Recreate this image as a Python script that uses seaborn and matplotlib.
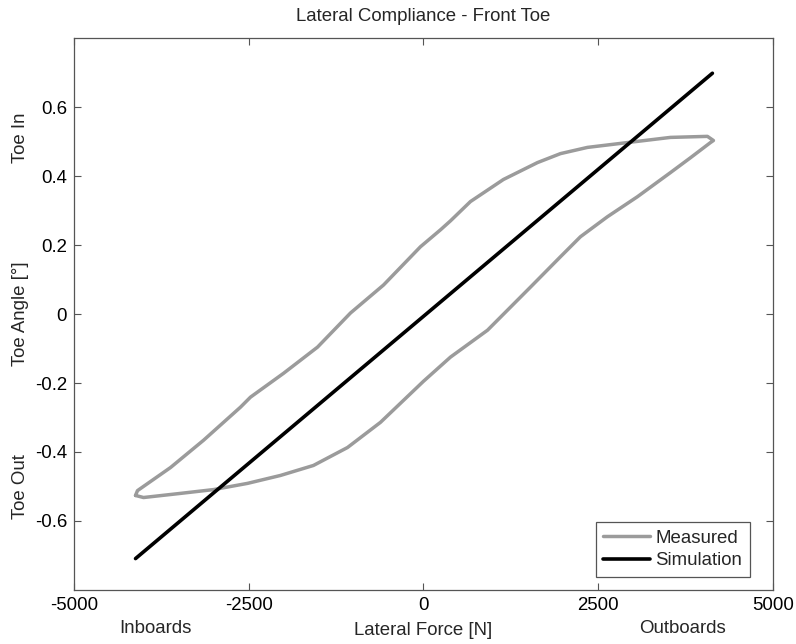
import numpy as np
import pandas as pd
import matplotlib
matplotlib.use("Agg")
import matplotlib.pyplot as plt
import seaborn as sns

# ---- data ----
measured_force = [-4120, -4006, -3476, -3004, -2518, -2046, -1574, -1087, -615, 0, 386, 916,
                  1531, 1960, 2246, 2632, 3061, 3534, 3820, 4106, 4149,
                  4063, 3534, 2918, 2346, 1960, 1631, 1144, 672, 386, 243, -43,
                  -572, -1044, -1516, -2003, -2475, -2618, -3147, -3619, -4092, -4120]
measured_toe = [-0.526, -0.532, -0.520, -0.509, -0.491, -0.468, -0.439, -0.387, -0.314, -0.195, -0.125, -0.047,
                0.078, 0.166, 0.224, 0.282, 0.340, 0.410, 0.453, 0.497, 0.503,
                0.515, 0.512, 0.497, 0.483, 0.465, 0.439, 0.390, 0.326, 0.270, 0.244, 0.195,
                0.084, 0.003, -0.096, -0.172, -0.241, -0.270, -0.366, -0.445, -0.512, -0.526]
sim_force = [-4120, 4134]
sim_toe = [-0.709, 0.698]

x_ticks = [-5000, -2500, 0, 2500, 5000]
y_ticks = [-0.6, -0.4, -0.2, 0, 0.2, 0.4, 0.6]

title = "Lateral Compliance - Front Toe"
x_label = "Lateral Force [N]"
y_label = "Toe Angle [°]"
x_side_labels = ["Inboards", "Outboards"]
y_side_labels = ["Toe In", "Toe Out"]

sns.set_style("ticks")
plt.rcParams["font.family"] = ["Liberation Sans", "DejaVu Sans"]
FS = 13.4

fig = plt.figure(figsize=(7.96, 6.44), dpi=100)
ax = fig.add_axes([0.093, 0.0839, 0.878, 0.857])

meas = pd.DataFrame({"force": measured_force, "toe": measured_toe})
sim = pd.DataFrame({"force": sim_force, "toe": sim_toe})

sns.lineplot(data=meas, x="force", y="toe", sort=False, estimator=None,
             color="#9b9b9b", linewidth=2.5, label="Measured", ax=ax)
sns.lineplot(data=sim, x="force", y="toe", sort=False, estimator=None,
             color="black", linewidth=2.6, label="Simulation", ax=ax)
for ln in ax.lines:
    ln.set_solid_joinstyle("round")
    ln.set_solid_capstyle("round")

ax.set_xlim(-5000, 5000)
ax.set_ylim(-0.8, 0.8)
ax.set_xticks(x_ticks)
ax.set_xticklabels([str(v) for v in x_ticks])
ax.set_yticks(y_ticks)
ax.set_yticklabels(["-0.6", "-0.4", "-0.2", "0", "0.2", "0.4", "0.6"])

for s in ax.spines.values():
    s.set_visible(True)
    s.set_color("#555555")
    s.set_linewidth(0.9)
ax.tick_params(direction="in", length=5, width=0.8, color="#555555",
               labelsize=FS, labelcolor="black", top=True, right=True, pad=5)

ax.set_title(title, fontsize=FS, pad=12)
ax.set_xlabel(x_label, fontsize=FS, labelpad=6)
ax.set_ylabel(y_label, fontsize=FS, labelpad=4)

ax.text(0.117, -0.069, x_side_labels[0], transform=ax.transAxes, ha="center", va="center", fontsize=FS)
ax.text(0.871, -0.069, x_side_labels[1], transform=ax.transAxes, ha="center", va="center", fontsize=FS)
ax.text(-0.0765, 0.82, y_side_labels[0], transform=ax.transAxes, ha="center", va="center",
        rotation=90, fontsize=FS)
ax.text(-0.0765, 0.187, y_side_labels[1], transform=ax.transAxes, ha="center", va="center",
        rotation=90, fontsize=FS)

leg = ax.legend(loc="lower right", bbox_to_anchor=(0.967, 0.024), borderaxespad=0,
                fontsize=FS, frameon=True, fancybox=False, handlelength=2.5,
                handletextpad=0.3, labelspacing=0.3, borderpad=0.4)
leg.get_frame().set_edgecolor("#555555")
leg.get_frame().set_linewidth(0.9)
leg.get_frame().set_alpha(1)

fig.savefig("out.png", dpi=100)
